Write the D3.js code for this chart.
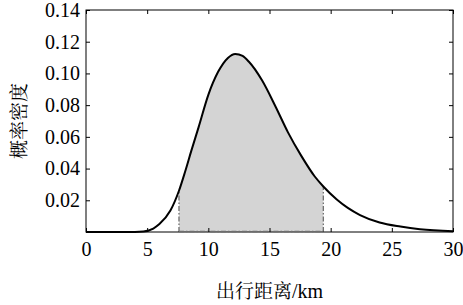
<!DOCTYPE html>
<html>
<head>
<meta charset="utf-8">
<script src="https://cdn.jsdelivr.net/npm/d3@7"></script>
<style>
  body { margin: 0; background: #fff; }
</style>
</head>
<body>
<div id="chart"></div>
<script>
// distance values (km)
const distance = [0, 4, 4.7, 5.5, 6.0, 6.9, 7.6, 8.1, 8.6, 9.2, 10.0, 10.8, 11.6, 12.2, 12.8, 13.3, 14.4, 15.5, 16.5, 17.6, 18.7, 19.4, 20.5, 21.4, 22.4, 24.0, 25.7, 27.3, 30];
// probability density at each distance
const density = [0, 0, 0.0003, 0.0022, 0.005, 0.0135, 0.026, 0.038, 0.051, 0.066, 0.0865, 0.101, 0.1098, 0.1123, 0.111, 0.1075, 0.0955, 0.079, 0.063, 0.048, 0.035, 0.0287, 0.0205, 0.0152, 0.0107, 0.006, 0.0034, 0.0017, 0.0005];
// shaded interval bounds
const shadeBounds = [7.6, 19.4];
const xTicks = [0, 5, 10, 15, 20, 25, 30];
const yTicks = [0.02, 0.04, 0.06, 0.08, 0.1, 0.12, 0.14];

const size = { width: 463, height: 305 };
const margin = { top: 10, right: 10, bottom: 73, left: 86 };
const serif = "Liberation Serif";
const cjk = "Noto Serif CJK SC";

const data = distance.map((d, i) => ({ x: d, y: density[i] }));

const svg = d3.select("#chart").append("svg")
  .attr("width", size.width)
  .attr("height", size.height)
  .style("font-family", serif);

const x = d3.scaleLinear()
  .domain([0, 30])
  .range([margin.left, size.width - margin.right]);

const y = d3.scaleLinear()
  .domain([0, 0.14])
  .range([size.height - margin.bottom, margin.top]);

// shaded area between bounds
const inside = data.filter((d) => d.x >= shadeBounds[0] && d.x <= shadeBounds[1]);
svg.append("path")
  .attr("d", d3.area()
    .x((d) => x(d.x))
    .y0(y(0))
    .y1((d) => y(d.y))
    .curve(d3.curveMonotoneX)(inside))
  .attr("fill", "#d4d4d4");

// dash-dot bounds
const edge = shadeBounds.map((b) => data.find((d) => d.x === b));
svg.append("g")
  .selectAll("line")
  .data(edge)
  .join("line")
  .attr("x1", (d) => x(d.x))
  .attr("x2", (d) => x(d.x))
  .attr("y1", y(0))
  .attr("y2", (d) => y(d.y))
  .attr("stroke", "#6e6e6e")
  .attr("stroke-width", 1.3)
  .attr("stroke-dasharray", "5,2,1.5,2");

// frame
svg.append("rect")
  .attr("x", x(0))
  .attr("y", y(0.14))
  .attr("width", x(30) - x(0))
  .attr("height", y(0) - y(0.14))
  .attr("fill", "none")
  .attr("stroke", "#000")
  .attr("stroke-width", 1);

svg.append("line")
  .attr("x1", x(shadeBounds[0]))
  .attr("x2", x(shadeBounds[1]))
  .attr("y1", y(0) - 0.5)
  .attr("y2", y(0) - 0.5)
  .attr("stroke", "#6e6e6e")
  .attr("stroke-width", 1.3)
  .attr("stroke-dasharray", "5,2,1.5,2");

// density curve
svg.append("path")
  .attr("d", d3.line()
    .x((d) => x(d.x))
    .y((d) => y(d.y))
    .curve(d3.curveMonotoneX)(data))
  .attr("fill", "none")
  .attr("stroke", "#000")
  .attr("stroke-width", 2);

const styleAxis = (g) => {
  g.attr("font-family", serif).attr("font-size", 20);
  g.select(".domain").remove();
  g.selectAll("line").attr("stroke", "#000");
  g.selectAll("text")
    .style("font-family", serif)
    .style("font-size", "20px")
    .attr("fill", "#000");
};

svg.append("g")
  .attr("transform", `translate(0, ${y(0)})`)
  .call(d3.axisBottom(x).tickValues(xTicks).tickSizeInner(-4).tickSizeOuter(0).tickPadding(10))
  .call(styleAxis);

svg.append("g")
  .attr("transform", `translate(0, ${y(0.14)})`)
  .call(d3.axisTop(x).tickValues(xTicks).tickSizeInner(-4).tickSizeOuter(0).tickFormat(""))
  .call(styleAxis);

svg.append("g")
  .attr("transform", `translate(${x(0)}, 0)`)
  .call(d3.axisLeft(y).tickValues(yTicks).tickSizeInner(-4).tickSizeOuter(0).tickPadding(6).tickFormat(d3.format(".2f")))
  .call(styleAxis);

svg.append("g")
  .attr("transform", `translate(${x(30)}, 0)`)
  .call(d3.axisRight(y).tickValues(yTicks).tickSizeInner(-4).tickSizeOuter(0).tickFormat(""))
  .call(styleAxis);

// axis titles
const xTitle = svg.append("text")
  .attr("x", (x(0) + x(30)) / 2)
  .attr("y", 298)
  .attr("text-anchor", "middle");
xTitle.append("tspan")
  .style("font-family", cjk)
  .style("font-size", "19px")
  .text("出行距离");
xTitle.append("tspan")
  .style("font-family", serif)
  .style("font-size", "20px")
  .text("/km");

svg.append("text")
  .attr("transform", `translate(26, ${(y(0) + y(0.14)) / 2}) rotate(-90)`)
  .attr("text-anchor", "middle")
  .style("font-family", cjk)
  .style("font-size", "19px")
  .text("概率密度");
</script>
</body>
</html>
